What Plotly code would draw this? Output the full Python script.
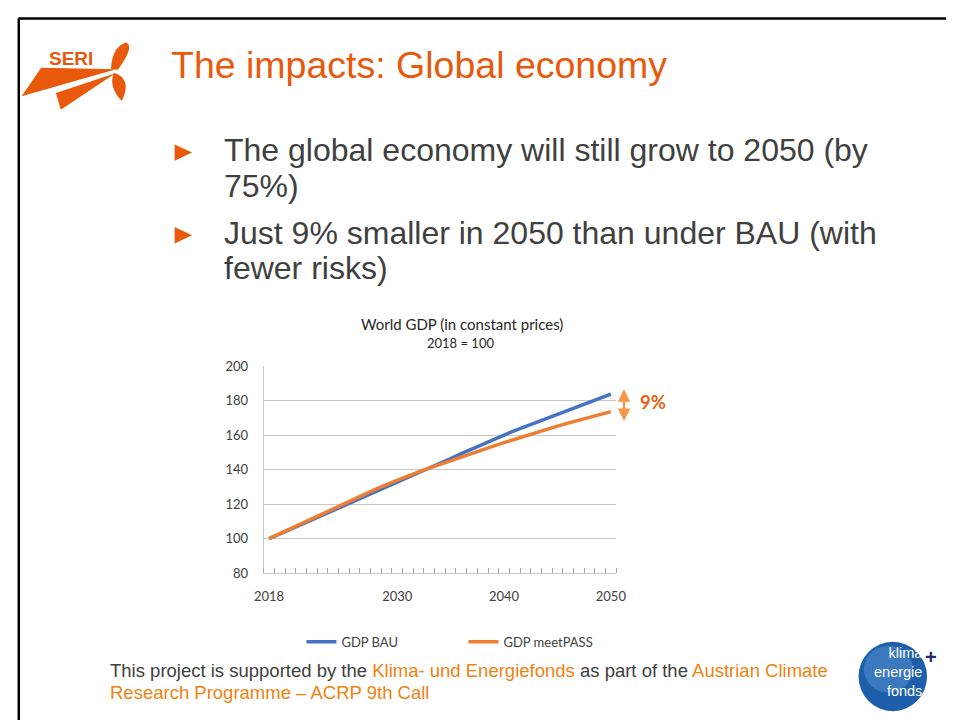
import plotly.graph_objects as go

# ---------------- data ----------------
years = list(range(2018, 2051))
gdp_bau = [100, 102.5, 105.3, 108.0, 110.8, 113.5, 116.2, 119.0, 121.7, 124.4,
           127.2, 130.0, 132.8, 135.5, 138.2, 141.0, 143.7, 146.4, 149.2, 152.0,
           154.7, 157.4, 160.0, 162.6, 165.0, 167.4, 169.7, 172.0, 174.3, 176.6,
           178.9, 181.3, 183.7]
gdp_meetpass = [100, 102.9, 105.8, 108.8, 111.7, 114.6, 117.4, 120.2, 123.0, 125.9,
                128.6, 131.3, 133.9, 136.3, 138.6, 140.8, 143.0, 145.2, 147.4, 149.5,
                151.6, 153.6, 155.6, 157.6, 159.6, 161.5, 163.4, 165.2, 166.9, 168.6,
                170.3, 171.9, 173.6]
series_names = ["GDP BAU", "GDP meetPASS"]
x_tick_labels = [2018, 2030, 2040, 2050]
y_ticks = [80, 100, 120, 140, 160, 180, 200]
diff_label = "9%"

W, H = 954, 720
OX, OY = 8, 8  # page body margin offset


def px(x):
    return (x - OX) / W


def py(y):
    return 1 - (y - OY) / H


def path(points, close=True):
    s = "M " + " L ".join(f"{px(x):.5f},{py(y):.5f}" for x, y in points)
    return s + (" Z" if close else "")


BLUE = "#4472C4"
ORANGE = "#ED7D31"
TITLE_OR = "#E8590C"
TEXT = "#404040"
GRID = "#C8C8C8"
CHART_FONT = "Lato"
SANS = "Liberation Sans"

fig = go.Figure()
fig.add_trace(go.Scatter(x=years, y=gdp_bau, mode="lines", name=series_names[0],
                         line=dict(color=BLUE, width=3.5)))
fig.add_trace(go.Scatter(x=years, y=gdp_meetpass, mode="lines", name=series_names[1],
                         line=dict(color=ORANGE, width=3.5)))

shapes = []
# slide frame (top and left edges)
shapes.append(dict(type="line", xref="paper", yref="paper",
                   x0=px(8.5), x1=1.0, y0=py(10.5), y1=py(10.5),
                   line=dict(color="black", width=2.5)))
shapes.append(dict(type="line", xref="paper", yref="paper",
                   x0=px(8.8), x1=px(8.8), y0=0, y1=py(10.5),
                   line=dict(color="black", width=2.5)))
# bullets
for cy in (147.7, 232.3):
    shapes.append(dict(type="path", xref="paper", yref="paper",
                       path=path([(168, cy - 8.4), (185.7, cy), (168, cy + 8.4)]),
                       fillcolor=TITLE_OR, line=dict(width=0)))
# SERI logo pieces
seri = [
    [(31.7, 61), (108.3, 62.5), (11.7, 90)],
    [(46.7, 86.7), (107.5, 66.5), (51.7, 104)],
]
for pts in seri:
    shapes.append(dict(type="path", xref="paper", yref="paper", path=path(pts),
                       fillcolor=TITLE_OR, line=dict(width=0)))
blade_up = (f"M {px(103):.5f},{py(62):.5f} Q {px(104):.5f},{py(40):.5f} {px(118):.5f},{py(35):.5f} "
            f"Q {px(128):.5f},{py(38):.5f} {px(110):.5f},{py(63):.5f} Z")
blade_dn = (f"M {px(106):.5f},{py(66):.5f} Q {px(125):.5f},{py(72):.5f} {px(114):.5f},{py(95):.5f} "
            f"Q {px(100):.5f},{py(80):.5f} {px(106):.5f},{py(66):.5f} Z")
for p in (blade_up, blade_dn):
    shapes.append(dict(type="path", xref="paper", yref="paper", path=p,
                       fillcolor=TITLE_OR, line=dict(width=0)))
# klima energie fonds logo
shapes.append(dict(type="circle", xref="paper", yref="paper",
                   x0=px(866.5), x1=px(936.5), y0=py(719), y1=py(648),
                   fillcolor="#1D5FAB", line=dict(width=0)))
shapes.append(dict(type="circle", xref="paper", yref="paper",
                   x0=px(872), x1=px(922), y0=py(700), y1=py(652),
                   fillcolor="rgba(120,170,225,0.35)", line=dict(width=0)))

annotations = []
annotations.append(dict(text="The impacts: Global economy", xref="paper", yref="paper",
                        x=px(162.5), y=py(58), xanchor="left", yanchor="middle", showarrow=False,
                        font=dict(family=SANS, size=37.5, color=TITLE_OR)))
annotations.append(dict(text="<b>SERI</b>", xref="paper", yref="paper",
                        x=px(62.5), y=py(51.5), xanchor="center", yanchor="middle", showarrow=False,
                        font=dict(family=SANS, size=19, color=TITLE_OR)))
body = [("The global economy will still grow to 2050 (by", 145),
        ("75%)", 182),
        ("Just 9% smaller in 2050 than under BAU (with", 229.5),
        ("fewer risks)", 265.5)]
for t, cy in body:
    annotations.append(dict(text=t, xref="paper", yref="paper", x=px(216), y=py(cy),
                            xanchor="left", yanchor="middle", showarrow=False,
                            font=dict(family=SANS, size=32, color=TEXT)))
# chart titles
annotations.append(dict(text="World GDP (in constant prices)", xref="paper", yref="paper",
                        x=px(462), y=py(323), xanchor="center", yanchor="middle",
                        showarrow=False, font=dict(family=CHART_FONT, size=15, color="#262626")))
annotations.append(dict(text="2018 = 100", xref="paper", yref="paper",
                        x=px(460), y=py(342.7), xanchor="center", yanchor="middle",
                        showarrow=False, font=dict(family=CHART_FONT, size=13, color="#262626")))
# 9% arrow and label
arrow_x = px(627)
annotations.append(dict(text="", xref="paper", yref="y", x=arrow_x, y=gdp_meetpass[-1] - 5.5,
                        axref="pixel", ayref="y", ax=0, ay=gdp_bau[-1] + 3.7,
                        showarrow=True, arrowhead=2, arrowside="end+start", arrowsize=1,
                        arrowwidth=2.5, arrowcolor="#F79646", standoff=0, startstandoff=0))
annotations.append(dict(text=f"<b>{diff_label}</b>", xref="paper", yref="y",
                        x=px(641.5), y=(gdp_bau[-1] + gdp_meetpass[-1]) / 2 + 0.6,
                        xanchor="left", yanchor="middle", showarrow=False,
                        font=dict(family=CHART_FONT, size=18.5, color="#E8620F")))
# footer
GR = TEXT
OR2 = "#F0820F"
foot1 = (f"<span style='color:{GR}'>This project is supported by the </span>"
         f"<span style='color:{OR2}'>Klima- und Energiefonds</span>"
         f"<span style='color:{GR}'> as part of the </span>"
         f"<span style='color:{OR2}'>Austrian Climate</span>")
foot2 = f"<span style='color:{OR2}'>Research Programme – ACRP 9th Call</span>"
annotations.append(dict(text=foot1, xref="paper", yref="paper", x=px(99.5), y=py(677.6),
                        xanchor="left", yanchor="middle", showarrow=False,
                        font=dict(family=SANS, size=18.5, color=GR)))
annotations.append(dict(text=foot2, xref="paper", yref="paper", x=px(99.5), y=py(700.3),
                        xanchor="left", yanchor="middle", showarrow=False,
                        font=dict(family=SANS, size=18.5, color=OR2)))
# klima logo text
annotations.append(dict(text="klima<br>energie<br>fonds", xref="paper", yref="paper",
                        x=px(934), y=py(679), xanchor="right", yanchor="middle", align="right",
                        showarrow=False, font=dict(family=SANS, size=14.5, color="white")))
annotations.append(dict(text="<b>+</b>", xref="paper", yref="paper", x=px(941), y=py(664),
                        xanchor="center", yanchor="middle", showarrow=False,
                        font=dict(family=SANS, size=20, color="#1F2A6B")))

fig.update_layout(
    width=W, height=H,
    margin=dict(l=0, r=0, t=0, b=0),
    paper_bgcolor="white", plot_bgcolor="white",
    showlegend=True,
    legend=dict(orientation="h", x=px(297.5), y=py(648), xanchor="left", yanchor="middle",
                font=dict(family=CHART_FONT, size=13, color="#404040"),
                entrywidth=117, entrywidthmode="pixels", bgcolor="rgba(0,0,0,0)",
                borderwidth=0),
    xaxis=dict(domain=[px(259), px(619)], range=[2017.5, 2050.5],
               tickvals=x_tick_labels, ticktext=[str(v) for v in x_tick_labels],
               ticks="", showgrid=False, zeroline=False,
               showline=True, linecolor=GRID, linewidth=1,
               ticklabelstandoff=11,
               tickfont=dict(family=CHART_FONT, size=13, color="#404040"),
               minor=dict(tick0=2017.5, dtick=1, ticks="inside", ticklen=5,
                          tickcolor="#A6A6A6", showgrid=False)),
    yaxis=dict(domain=[py(577.7), py(366)], range=[80, 200],
               tickvals=y_ticks, ticks="", showgrid=True, gridcolor=GRID, gridwidth=1,
               zeroline=False, showline=True, linecolor=GRID, linewidth=1,
               ticklabelstandoff=12,
               tickfont=dict(family=CHART_FONT, size=13, color="#404040")),
    shapes=shapes,
    annotations=annotations,
)

fig.write_html("out.html")
